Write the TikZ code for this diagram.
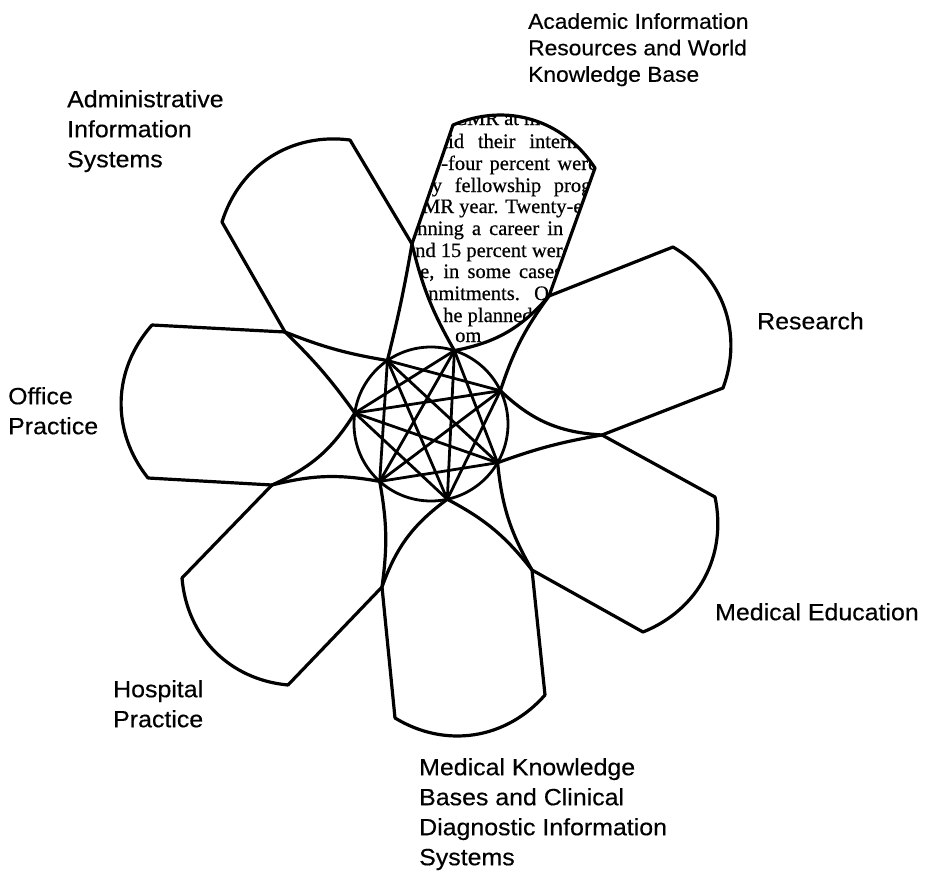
\documentclass[tikz,border=0pt]{standalone}
\usepackage{fontspec}
\setmainfont{Liberation Sans}
\newfontfamily\lblfont[FakeStretch=1.06,FakeBold=0.4]{Liberation Sans}
\newfontfamily\pagefont[FakeBold=0.5]{Liberation Serif}
\tikzset{
  petal/.style={line width=3.2pt, line join=round, line cap=round},
  starline/.style={line width=2.8pt, line cap=round},
  ring/.style={line width=2.8pt},
  lbl/.style={anchor=north west, inner sep=0pt, align=left, font=\lblfont\fontsize{23.5}{30}\selectfont},
  pageline/.style={anchor=base west, inner sep=0pt, font=\pagefont\fontsize{20.5}{22}\selectfont},
}
\begin{document}
\begin{tikzpicture}[x=1pt,y=1pt]
\useasboundingbox (0,0) rectangle (930,-875);
\fill[white] (0,0) rectangle (930,-875);
% centre circle and its seven points
\coordinate (O) at (431,-424);
\coordinate (V1) at (454.4,-350.6);
\coordinate (V2) at (500.4,-390.7);
\coordinate (V3) at (497.6,-462.7);
\coordinate (V4) at (447.3,-499.3);
\coordinate (V5) at (379.7,-481.4);
\coordinate (V6) at (354.8,-413.0);
\coordinate (V7) at (387.4,-360.5);
% crossing points between petals
\coordinate (S12) at (549,-296);
\coordinate (S23) at (602,-435);
\coordinate (S34) at (532,-570);
\coordinate (S45) at (382,-587);
\coordinate (S56) at (272,-485);
\coordinate (S67) at (285,-332);
\coordinate (S71) at (412,-244);
% outer corners of petals
\coordinate (A1) at (453,-125); \coordinate (B1) at (595,-168);
\coordinate (A2) at (673,-247); \coordinate (B2) at (723,-388);
\coordinate (A3) at (715,-497); \coordinate (B3) at (643,-632);
\coordinate (A4) at (545,-695); \coordinate (B4) at (395,-718);
\coordinate (A5) at (288,-685); \coordinate (B5) at (182,-578);
\coordinate (A6) at (148,-478); \coordinate (B6) at (152,-325);
\coordinate (A7) at (222,-222); \coordinate (B7) at (350,-140);

% page text seen through the top petal
\begin{scope}
\clip (V1) to[bend left=8] (S71) -- (A1) to[bend left=40] (B1) -- (S12) to[bend left=19] (V1) -- cycle;
\node[pageline] (t1) at (467,-125) {\llap{C}MR at most};
\node[pageline] (t2) at (448,-148) {\llap{d}\makebox[138pt][s]{id their interna}l};
\node[pageline] (t3) at (441,-170) {\llap{Forty}\makebox[156pt][s]{-four percent were}};
\node[pageline] (t4) at (426,-192) {\llap{special}\makebox[172pt][s]{ty fellowship progr}am};
\node[pageline] (t5) at (422,-213) {\llap{C}MR year. Twenty-eight};
\node[pageline] (t6) at (417,-235) {\llap{pla}\makebox[146pt][s]{nning a career in}};
\node[pageline] (t7) at (415,-257) {\llap{a}nd 15 percent were};
\node[pageline] (t8) at (420,-278) {\llap{practic}\makebox[142pt][s]{e, in some cases}};
\node[pageline] (t9) at (428,-300) {\llap{com}\makebox[131pt][s]{nmitments. On}e};
\node[pageline] (t10) at (443,-322) {he planned};
\node[pageline] (t11) at (455,-342) {om};
\end{scope}

% centre circle with star
\draw[ring] (O) circle[radius=77pt];
\foreach \i/\j in {1/3,2/4,3/5,4/6,5/7,6/1,7/2,1/4,2/5,3/6,4/7,5/1,6/2,7/3}
  \draw[starline] (V\i) -- (V\j);

% petal sides
\draw[petal] (V1) to[bend right=19] (S12) -- (A2);
\draw[petal] (V2) to[bend left=9] (S12) -- (B1);
\draw[petal] (V2) to[bend right=20] (S23) -- (A3);
\draw[petal] (V3) to[bend left=5] (S23) -- (B2);
\draw[petal] (V3) to[bend right=12] (S34) -- (A4);
\draw[petal] (V4) to[bend left=12] (S34) -- (B3);
\draw[petal] (V4) to[bend right=17] (S45) -- (A5);
\draw[petal] (V5) to[bend left=9] (S45) -- (B4);
\draw[petal] (V5) to[bend right=12] (S56) -- (A6);
\draw[petal] (V6) to[bend left=17] (S56) -- (B5);
\draw[petal] (V6) to[bend right=5] (S67) -- (A7);
\draw[petal] (V7) to[bend left=6] (S67) -- (B6);
\draw[petal] (V7) to[bend right=2] (S71) -- (A1);
\draw[petal] (V1) to[bend left=8] (S71) -- (B7);
% petal outer arcs
\foreach \k in {1,...,7}
  \draw[petal] (A\k) to[bend left=40] (B\k);

% labels
\node[lbl, font=\lblfont\fontsize{21.5}{26.5}\selectfont] (acad) at (528,-13) {Academic Information\\Resources and World\\Knowledge Base};
\node[lbl] (admin) at (67,-90) {Administrative\\Information\\Systems};
\node[lbl] (office) at (8,-387) {Office\\Practice};
\node[lbl] (res) at (757,-312) {Research};
\node[lbl] (medu) at (715,-603) {Medical Education};
\node[lbl] (hosp) at (113,-680) {Hospital\\Practice};
\node[lbl] (mkb) at (419,-758) {Medical Knowledge\\Bases and Clinical\\Diagnostic Information\\Systems};
\end{tikzpicture}
\end{document}
